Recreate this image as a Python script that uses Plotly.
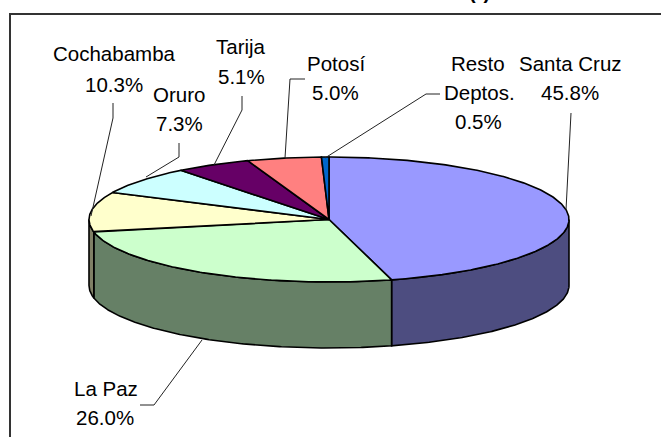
import numpy as np
import plotly.graph_objects as go

# Data
categories = ["Santa Cruz", "La Paz", "Cochabamba", "Oruro", "Tarija", "Potosí", "Resto Deptos."]
values = [45.8, 26.0, 10.3, 7.3, 5.1, 5.0, 0.5]

# Styles
top_colors = ["#9999FF", "#CCFFCC", "#FFFFCC", "#CCFFFF", "#660066", "#FF8080", "#0066CC"]
side_colors = ["#4D4D80", "#668066", "#808066", "#668080", "#330033", "#804040", "#003366"]
W, H = 661, 437
CX, CY, RX, RY, DEPTH = 329, 219.5, 240, 62.5, 66
FONT = "Liberation Sans, Arial, sans-serif"
FS = 20.5

# Label layout: (text, x, y)
label_lines = [
    ("Cochabamba", 114, 53), ("10.3%", 114, 84),
    ("Oruro", 179, 94), ("7.3%", 179, 123),
    ("Tarija", 241, 46), ("5.1%", 241, 76),
    ("Potosí", 336, 63), ("5.0%", 335, 92),
    ("Resto", 478, 63), ("Deptos.", 479, 92), ("0.5%", 478, 121),
    ("Santa Cruz", 570, 63), ("45.8%", 570, 92),
    ("La Paz", 106, 388), ("26.0%", 105, 417),
]
leaders = [
    ([113, 113, 91], [103, 118, 216]),
    ([179, 179, 146], [143, 157, 177]),
    ([242, 242, 214], [96, 110, 165]),
    ([305, 290, 285], [79, 79, 158]),
    ([440, 426, 325], [94, 94, 158]),
    ([571, 566], [113, 210]),
    ([140, 154, 202], [405, 405, 340]),
]

def rim(a0, a1):
    t = np.radians(np.linspace(a0, a1, max(2, int(abs(a1 - a0) * 2) + 1)))
    return CX + RX * np.sin(t), CY - RY * np.cos(t)

fig = go.Figure()
edges = np.concatenate([[0], np.cumsum(values)]) / sum(values) * 360

# Front walls
for i in range(len(values)):
    a0, a1 = max(edges[i], 90), min(edges[i + 1], 270)
    if a1 <= a0:
        continue
    x, y = rim(a0, a1)
    px = np.concatenate([x, x[::-1], x[:1]])
    py = np.concatenate([y, y[::-1] + DEPTH, y[:1]])
    fig.add_trace(go.Scatter(x=px, y=py, mode="lines", fill="toself", fillcolor=side_colors[i],
                             line=dict(color="black", width=1.6), hoverinfo="skip"))

# Top face
for i in range(len(values)):
    x, y = rim(edges[i], edges[i + 1])
    px = np.concatenate([[CX], x, [CX]])
    py = np.concatenate([[CY], y, [CY]])
    fig.add_trace(go.Scatter(x=px, y=py, mode="lines", fill="toself", fillcolor=top_colors[i],
                             line=dict(color="black", width=1.6), hoverinfo="skip"))

# Leader lines
for lx, ly in leaders:
    fig.add_trace(go.Scatter(x=lx, y=ly, mode="lines", line=dict(color="#222222", width=1), hoverinfo="skip"))

annotations = [dict(x=x, y=y, text=t, showarrow=False, xanchor="center", yanchor="middle",
                    font=dict(family=FONT, size=FS, color="black")) for t, x, y in label_lines]
annotations.append(dict(xref="paper", yref="paper", x=479 / W, y=1, yshift=8, text="<b>(r)</b>", showarrow=False,
                        xanchor="center", yanchor="middle",
                        font=dict(family=FONT, size=20, color="black")))

fig.update_layout(
    width=W, height=H, margin=dict(l=0, r=0, t=0, b=0), showlegend=False,
    paper_bgcolor="white", plot_bgcolor="white",
    xaxis=dict(range=[0, W], visible=False, fixedrange=True),
    yaxis=dict(range=[H, 0], visible=False, fixedrange=True),
    annotations=annotations,
    shapes=[dict(type="rect", x0=10, y0=14, x1=W + 20, y1=H + 20, line=dict(color="#333333", width=2), layer="below")],
)
fig.write_html("out.html", config=dict(displayModeBar=False),
               post_script="document.body.style.margin='0';document.documentElement.style.overflow='hidden';")
